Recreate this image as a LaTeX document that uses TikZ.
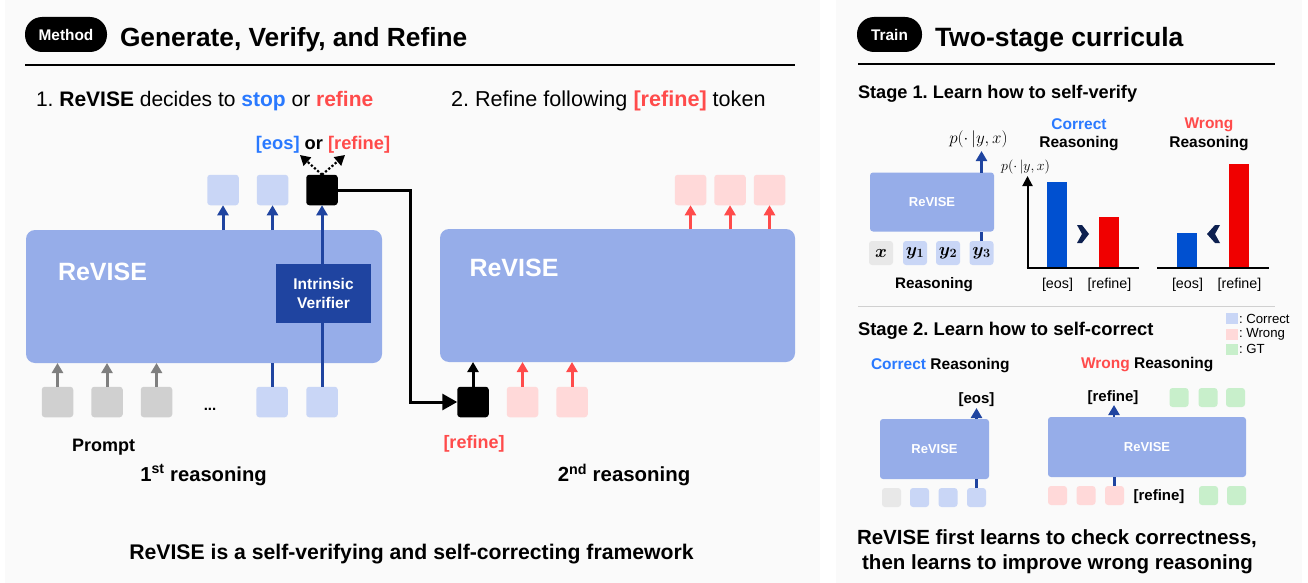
\RequirePackage{fix-cm}
\documentclass[tikz,border=0pt]{standalone}
\usepackage{amsmath}
\usepackage{bm}
\usepackage{fontspec}
\setmainfont{Liberation Sans}
\usetikzlibrary{arrows.meta}
\definecolor{panel}{HTML}{FAFAFA}
\definecolor{boxblue}{HTML}{96ADE9}
\definecolor{navy}{HTML}{1F44A0}
\definecolor{tokblue}{HTML}{C9D6F6}
\definecolor{tokred}{HTML}{FFD9D9}
\definecolor{tokgray}{HTML}{D0D0D0}
\definecolor{tokpale}{HTML}{E8E8E8}
\definecolor{tokgreen}{HTML}{C8EFCB}
\definecolor{txtblue}{HTML}{2979FF}
\definecolor{txtred}{HTML}{FF4B4B}
\definecolor{barblue}{HTML}{0050D0}
\definecolor{barred}{HTML}{F00000}
\definecolor{arrgray}{HTML}{7F7F7F}
\definecolor{chev}{HTML}{0D2050}
\newcommand{\fs}[1]{\fontsize{#1}{#1}\selectfont}
\AtBeginDocument{\frenchspacing}
\tikzset{
  x=1pt,y=-1pt,
  lbl/.style={inner sep=0,outer sep=0,text=black},
  pill/.style={fill=black,rounded corners=17pt,inner sep=0,outer sep=0,text=white,font=\bfseries\fs{15.4}},
  bigbox/.style={fill=boxblue,rounded corners=#1,inner sep=0,outer sep=0,text=white},
  tok/.style={rounded corners=3pt,inner sep=0,outer sep=0,minimum width=31.5pt,minimum height=30.5pt},
  stok/.style={rounded corners=3pt,inner sep=0,outer sep=0,minimum width=24pt,minimum height=24pt,font=\fs{18}},
  xtok/.style={rounded corners=3pt,inner sep=0,outer sep=0,minimum width=19pt,minimum height=19pt},
  legtok/.style={inner sep=0,outer sep=0,minimum width=12pt,minimum height=11pt},
  ln/.style={line width=3pt},
  tip/.style={-{Triangle[width=11pt,length=10pt]}},
  bluearr/.style={ln,navy,tip},
  redarr/.style={ln,txtred,tip},
  grayarr/.style={ln,arrgray,tip},
  blackarr/.style={ln,black,tip},
  bluel/.style={ln,navy},
  thinarr/.style={line width=2.4pt,navy,-{Triangle[width=11pt,length=10pt]}},
  rule/.style={line width=2pt,black},
  dotarr/.style={line width=2.2pt,dotted,black,-{Triangle[width=11pt,length=10pt]}},
}
\begin{document}
\begin{tikzpicture}
\useasboundingbox (0,0) rectangle (1308,583);
\fill[white] (0,0) rectangle (1308,583);
\fill[panel] (5,0) rectangle (820,583);
\fill[panel] (836,0) rectangle (1301.5,583);

% --- left header
\node[pill,minimum width=82pt,minimum height=35pt] (pm) at (66,34.5) {Method};
\node[lbl,anchor=west,font=\bfseries\fs{26.3}] (tm) at (120,39.5) {Generate, Verify, and Refine};
\coordinate (r1a) at (25,65); \coordinate (r1b) at (795,65);
\draw[rule] (r1a) -- (r1b);
\node[lbl,anchor=west,font=\fs{21}] (h1) at (36,101) {1. \textbf{ReVISE} decides to \textcolor{txtblue}{\textbf{stop}} or \textcolor{txtred}{\textbf{refine}}};
\node[lbl,anchor=west,font=\fs{21.6}] (h2) at (451,101) {2. Refine following \textcolor{txtred}{\textbf{[refine]}} token};
\node[lbl,font=\bfseries\fs{18.3}] (eosor) at (323,145) {\textcolor{txtblue}{[eos]} or \textcolor{txtred}{[refine]}};

% --- first model
\node[bigbox=9pt,minimum width=356pt,minimum height=133pt] (m1) at (204,296.5) {};
\node[lbl,anchor=center,text=white,font=\bfseries\fs{25}] (m1t) at (102.5,272) {ReVISE};
\node[fill=navy,inner sep=0,outer sep=0,minimum width=95pt,minimum height=59pt,text=white,font=\bfseries\fs{15.5},align=center] (iv) at (323.5,293.5) {Intrinsic\\[3pt]Verifier};
\node[tok,fill=tokblue] (o1) at (223,190) {};
\node[tok,fill=tokblue] (o2) at (272.5,190) {};
\node[tok,fill=black] (o3) at (322,190) {};
\node[tok,fill=tokgray] (p1) at (57.5,402) {};
\node[tok,fill=tokgray] (p2) at (107,402) {};
\node[tok,fill=tokgray] (p3) at (156.5,402) {};
\node[lbl,font=\bfseries\fs{15}] (dots) at (210,409) {...};
\node[tok,fill=tokblue] (r1) at (272,402) {};
\node[tok,fill=tokblue] (r2) at (322,402) {};
\draw[bluearr] (o1.south |- m1.north) -- (o1.south);
\draw[bluearr] (o2.south |- m1.north) -- (o2.south);
\draw[bluearr] (o3.south |- iv.north) -- (o3.south);
\draw[bluel] (r2.north) -- (r2.north |- iv.south);
\draw[bluel] (r1.north) -- (r1.north |- m1.south);
\draw[grayarr] (p1.north) -- (p1.north |- m1.south);
\draw[grayarr] (p2.north) -- (p2.north |- m1.south);
\draw[grayarr] (p3.north) -- (p3.north |- m1.south);
\coordinate (dl) at (300,155); \coordinate (dr) at (345,155);
\draw[dotarr] (o3.north) -- (dl);
\draw[dotarr] (o3.north) -- (dr);
\node[lbl,font=\bfseries\fs{18}] (prompt) at (103.5,447) {Prompt};
\node[lbl,font=\bfseries\fs{20.2}] (first) at (203.5,475) {1\textsuperscript{st} reasoning};

% --- second model
\node[bigbox=9pt,minimum width=355pt,minimum height=133pt] (m2) at (617.5,295.5) {};
\node[lbl,text=white,font=\bfseries\fs{25}] (m2t) at (514,268) {ReVISE};
\node[tok,fill=tokred] (q1) at (690.5,190) {};
\node[tok,fill=tokred] (q2) at (730,190) {};
\node[tok,fill=tokred] (q3) at (769.5,190) {};
\node[tok,fill=black] (b2) at (473,402) {};
\node[tok,fill=tokred] (s1) at (522.5,402) {};
\node[tok,fill=tokred] (s2) at (572,402) {};
\draw[redarr] (q1.south |- m2.north) -- (q1.south);
\draw[redarr] (q2.south |- m2.north) -- (q2.south);
\draw[redarr] (q3.south |- m2.north) -- (q3.south);
\draw[blackarr] (b2.north) -- (b2.north |- m2.south);
\draw[redarr] (s1.north) -- (s1.north |- m2.south);
\draw[redarr] (s2.north) -- (s2.north |- m2.south);
\coordinate (elbowx) at (410,190);
\draw[line width=3pt,black,-{Triangle[width=16pt,length=15pt]}] (o3.east) -- (elbowx) -- (elbowx |- b2.west) -- (b2.west);
\node[lbl,text=txtred,font=\bfseries\fs{18}] (ref2) at (474,444) {[refine]};
\node[lbl,font=\bfseries\fs{20.4}] (second) at (624,475) {2\textsuperscript{nd} reasoning};
\node[lbl,font=\bfseries\fs{21.2}] (foot1) at (411.5,554) {ReVISE is a self-verifying and self-correcting framework};

% --- right header
\node[pill,minimum width=65pt,minimum height=35pt] (pt) at (889.5,34.5) {Train};
\node[lbl,anchor=west,font=\bfseries\fs{26.5}] (tt) at (935,39.5) {Two-stage curricula};
\coordinate (r2a) at (858,64.5); \coordinate (r2b) at (1275,64.5);
\draw[rule] (r2a) -- (r2b);
\node[lbl,anchor=west,font=\bfseries\fs{18.2}] (st1) at (858,93.5) {Stage 1. Learn how to self-verify};

% --- stage 1
\node[bigbox=3pt,minimum width=124pt,minimum height=59pt,font=\bfseries\fs{13}] (sm) at (932,202) {ReVISE};
\node[stok,fill=tokpale] (tx) at (881,253) {$\bm{x}$};
\node[stok,fill=tokblue] (ty1) at (915,253) {$\bm{y_1}$};
\node[stok,fill=tokblue] (ty2) at (948,253) {$\bm{y_2}$};
\node[stok,fill=tokblue] (ty3) at (981.5,253) {$\bm{y_3}$};
\node[lbl,font=\fs{17}] (pyx) at (978.5,139) {$p(\cdot\,|y,x)$};
\coordinate (pyxa) at (981.5,151);
\draw[bluel,line width=2.4pt] (ty3.north) -- (ty3.north |- sm.south);
\draw[thinarr] (ty3.north |- sm.north) -- (pyxa);
\node[lbl,font=\bfseries\fs{15.2}] (rsn) at (934,285) {Reasoning};
\node[lbl,font=\fs{14}] (pyx2) at (1025.5,167) {$p(\cdot\,|y,x)$};
\node[lbl,text=txtblue,font=\bfseries\fs{15.5}] (cor) at (1079,124) {Correct};
\node[lbl,font=\bfseries\fs{15.5}] (cor2) at (1079,144) {Reasoning};
\node[lbl,text=txtred,font=\bfseries\fs{15.5}] (wro) at (1209,125) {Wrong};
\node[lbl,font=\bfseries\fs{15.5}] (wro2) at (1209,144) {Reasoning};
% bars
\fill[barblue] (1047,182) rectangle (1067,268);
\fill[barred] (1099,217) rectangle (1119,268);
\fill[barblue] (1177,233) rectangle (1197,268);
\fill[barred] (1229,164) rectangle (1249,268);
\coordinate (ax0) at (1027.5,268); \coordinate (ax1) at (1027.5,176); \coordinate (axe) at (1139,268);
\coordinate (ay0) at (1157,268); \coordinate (ay1) at (1269,268);
\draw[line width=2pt,black,-{Triangle[width=10pt,length=10pt]}] (ax0) -- (ax1);
\draw[line width=2pt,black] (1026.5,268) -- (axe);
\draw[line width=2pt,black] (ay0) -- (ay1);
\fill[chev] (1077,225) -- (1082,225) -- (1089,234) -- (1082,243) -- (1077,243) -- (1082,234) -- cycle;
\fill[chev] (1220,225) -- (1215,225) -- (1207,234) -- (1215,243) -- (1220,243) -- (1215,234) -- cycle;
\node[lbl,font=\fs{14.3}] (e1) at (1057.5,284.5) {[eos]};
\node[lbl,font=\fs{14.3}] (f1) at (1109.5,284.5) {[refine]};
\node[lbl,font=\fs{14.3}] (e2) at (1187.5,284.5) {[eos]};
\node[lbl,font=\fs{14.3}] (f2) at (1239.5,284.5) {[refine]};

% --- separator
\coordinate (r3a) at (858,306.5); \coordinate (r3b) at (1275,306.5);
\draw[line width=0.8pt,tokgray] (r3a) -- (r3b);
\node[lbl,anchor=west,font=\bfseries\fs{18.4}] (st2) at (858,331) {Stage 2. Learn how to self-correct};
% legend
\node[legtok,fill=tokblue] (l1) at (1232,318.5) {};
\node[legtok,fill=tokred] (l2) at (1232,334.5) {};
\node[legtok,fill=tokgreen] (l3) at (1232,349.5) {};
\node[lbl,anchor=west,font=\fs{13.2}] (lt1) at (1239,318.5) {: Correct};
\node[lbl,anchor=west,font=\fs{13.2}] (lt2) at (1239,334.5) {: Wrong};
\node[lbl,anchor=west,font=\fs{13.2}] (lt3) at (1239,349) {: GT};

% --- stage 2 correct
\node[lbl,anchor=west,font=\bfseries\fs{15.5}] (c3) at (871,366) {\textcolor{txtblue}{Correct} Reasoning};
\node[bigbox=3pt,minimum width=109pt,minimum height=60pt,font=\bfseries\fs{13}] (cm) at (934.5,449) {ReVISE};
\node[xtok,fill=tokpale] (c1) at (891.5,497.5) {};
\node[xtok,fill=tokblue] (c2) at (919.5,497.5) {};
\node[xtok,fill=tokblue] (c4) at (948,497.5) {};
\node[xtok,fill=tokblue] (c5) at (976.5,497.5) {};
\node[lbl,font=\bfseries\fs{15}] (ceos) at (976.5,399.5) {[eos]};
\coordinate (ceosa) at (976.5,408);
\draw[bluel,line width=2.4pt] (c5.north) -- (c5.north |- cm.south);
\draw[thinarr] (c5.north |- cm.north) -- (ceosa);

% --- stage 2 wrong
\node[lbl,anchor=west,font=\bfseries\fs{15.5}] (w3) at (1081,365) {\textcolor{txtred}{Wrong} Reasoning};
\node[bigbox=3pt,minimum width=198pt,minimum height=60pt,font=\bfseries\fs{13}] (wm) at (1147,447) {ReVISE};
\node[xtok,fill=tokred] (w1) at (1057.5,495.5) {};
\node[xtok,fill=tokred] (w2) at (1086,495.5) {};
\node[xtok,fill=tokred] (w4) at (1114.5,495.5) {};
\node[lbl,font=\bfseries\fs{15}] (wrf) at (1159,497) {[refine]};
\node[xtok,fill=tokgreen] (g1) at (1208.5,495.5) {};
\node[xtok,fill=tokgreen] (g2) at (1236.5,495.5) {};
\node[xtok,fill=tokgreen] (g3) at (1179,397.5) {};
\node[xtok,fill=tokgreen] (g4) at (1208,397.5) {};
\node[xtok,fill=tokgreen] (g5) at (1235.5,397.5) {};
\node[lbl,font=\bfseries\fs{15}] (wrf2) at (1113,398) {[refine]};
\coordinate (wrfa) at (1114,405);
\draw[bluel,line width=2.4pt] (w4.north) -- (w4.north |- wm.south);
\draw[thinarr] (wrfa |- wm.north) -- (wrfa);

% --- right footer
\node[lbl,font=\bfseries\fs{20.5}] (foot2) at (1057,539) {ReVISE first learns to check correctness,};
\node[lbl,font=\bfseries\fs{20.5}] (foot3) at (1057.5,564) {then learns to improve wrong reasoning};
\end{tikzpicture}
\end{document}
